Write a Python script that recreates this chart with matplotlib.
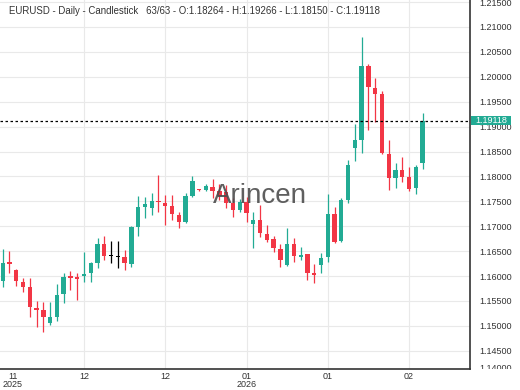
import numpy as np
import matplotlib.pyplot as plt
from matplotlib.patches import Rectangle
from matplotlib.transforms import Bbox, TransformedBbox, blended_transform_factory

plt.rcParams['font.family'] = ['Liberation Sans', 'DejaVu Sans']

# daily EURUSD candles (63 bars)
opens = [1.15900, 1.16287, 1.16120, 1.15886, 1.15779, 1.15364, 1.15317, 1.15062, 1.15183, 1.15639,
         1.16000, 1.15980, 1.16006, 1.16054, 1.16267, 1.16637, 1.16420, 1.16400, 1.16388, 1.16241,
         1.16990, 1.17392, 1.17360, 1.17510, 1.17472, 1.17406, 1.17225, 1.17078, 1.17613, 1.17741,
         1.17721, 1.17793, 1.17710, 1.17693, 1.17460, 1.17325, 1.17480, 1.17038, 1.17125, 1.16843,
         1.16737, 1.16542, 1.16221, 1.16643, 1.16388, 1.16436, 1.16066, 1.16221, 1.16376, 1.17239,
         1.16709, 1.17526, 1.18564, 1.18731, 1.20217, 1.19781, 1.19655, 1.18450, 1.17962, 1.18129,
         1.17982, 1.17761, 1.18264]
highs = [1.16542, 1.16508, 1.16150, 1.15960, 1.15960, 1.15498, 1.15484, 1.15484, 1.15840, 1.16060,
         1.16106, 1.16066, 1.16488, 1.16287, 1.16757, 1.16803, 1.16703, 1.16703, 1.16522, 1.17000,
         1.17613, 1.17580, 1.17661, 1.18028, 1.17627, 1.17627, 1.17291, 1.17661, 1.18008, 1.17750,
         1.17841, 1.17948, 1.17850, 1.17827, 1.17560, 1.17540, 1.17593, 1.17280, 1.17426, 1.17024,
         1.16803, 1.16643, 1.16958, 1.16757, 1.16588, 1.16450, 1.16241, 1.16468, 1.17647, 1.17392,
         1.17560, 1.18329, 1.19046, 1.20805, 1.20251, 1.19970, 1.19721, 1.18731, 1.18275, 1.18384,
         1.18195, 1.18229, 1.19266]
lows = [1.15779, 1.16054, 1.15799, 1.15685, 1.15177, 1.14982, 1.14882, 1.15016, 1.15096, 1.15458,
        1.15719, 1.15518, 1.15886, 1.15886, 1.16155, 1.16321, 1.16255, 1.16161, 1.16120, 1.16187,
        1.16809, 1.17159, 1.17225, 1.17291, 1.17024, 1.17125, 1.16970, 1.17060, 1.17593, 1.17710,
        1.17707, 1.17560, 1.17520, 1.17366, 1.17191, 1.17291, 1.17090, 1.16556, 1.16789, 1.16689,
        1.16488, 1.16187, 1.16201, 1.16287, 1.16321, 1.15920, 1.15853, 1.16054, 1.16287, 1.16657,
        1.16689, 1.17466, 1.18315, 1.18476, 1.18932, 1.19098, 1.18450, 1.17727, 1.17761, 1.17894,
        1.17713, 1.17647, 1.18150]
closes = [1.16267, 1.16235, 1.15900, 1.15785, 1.15378, 1.15317, 1.15183, 1.15177, 1.15619, 1.15986,
          1.15960, 1.15950, 1.16040, 1.16267, 1.16637, 1.16408, 1.16420, 1.16400, 1.16255, 1.16990,
          1.17392, 1.17440, 1.17506, 1.17480, 1.17412, 1.17239, 1.17090, 1.17606, 1.17914, 1.17721,
          1.17801, 1.17707, 1.17600, 1.17460, 1.17325, 1.17492, 1.17271, 1.17125, 1.16857, 1.16723,
          1.16568, 1.16321, 1.16643, 1.16402, 1.16422, 1.16066, 1.16026, 1.16368, 1.17245, 1.16689,
          1.17526, 1.18229, 1.18731, 1.20217, 1.19789, 1.19655, 1.18476, 1.17962, 1.18129, 1.17994,
          1.17741, 1.18195, 1.19118]

tick_pos = [0, 12, 24, 36, 48, 60]
tick_labels = ['11\n2025', '12', '12', '01\n2026', '01', '02']
last_price = 1.19118
title = ('EURUSD - Daily - Candlestick   63/63 - O:1.18264 - H:1.19266 - '
         'L:1.18150 - C:1.19118')

up = '#22ab94'
down = '#f23645'
text_col = '#333333'

fig = plt.figure(figsize=(5.2, 3.9), dpi=100)
ax = fig.add_axes([0, 21 / 390, 470 / 520, 369 / 390])

o = np.array(opens)
c = np.array(closes)
x = np.arange(len(o))
colors = np.where(c > o, up, np.where(c < o, down, 'black'))
body_h = np.maximum(np.abs(c - o), 0.00018)
body_b = np.where(c == o, o - 0.00009, np.minimum(o, c))

ax.vlines(x, lows, highs, colors=colors, lw=0.9, zorder=2)
ax.bar(x, body_h, bottom=body_b, width=0.64, color=colors, zorder=3)

ax.axhline(last_price, color='black', lw=0.9, linestyle=(0, (2, 2)), zorder=4)

ax.set_xlim(-0.4, 69.0)
ax.set_ylim(1.14133, 1.21542)

yt = np.arange(1.145, 1.2151, 0.005)
ax.yaxis.tick_right()
ax.set_yticks(yt)
ax.set_yticklabels([f'{v:.5f}' for v in yt])
ax.set_xticks(tick_pos)
ax.set_xticklabels(tick_labels, linespacing=0.95)
first = ax.get_xticklabels()[0]
first.set_horizontalalignment('left')
first.set_multialignment('center')
ax.tick_params(axis='y', length=0, pad=6.5, labelsize=6.5, labelcolor=text_col)
ax.tick_params(axis='x', length=0, pad=2, labelsize=6.5, labelcolor=text_col)

ax.grid(True, color='#e9e9e9', lw=0.8)
ax.xaxis.get_gridlines()[0].set_visible(False)
ax.set_axisbelow(True)

for s in ['top', 'left']:
    ax.spines[s].set_visible(False)
for s in ['right', 'bottom']:
    ax.spines[s].set_color('#333333')
    ax.spines[s].set_linewidth(1.2)

# clipped bottom label
t = ax.text(1.0 + 9 / 470, 1.14153, '1.14000', transform=ax.get_yaxis_transform(),
            fontsize=6.5, color=text_col, va='center', ha='left')
t.set_clip_box(TransformedBbox(Bbox.from_extents(0.9, 21 / 390, 1.0, 1.0), fig.transFigure))
t.set_clip_on(True)

# last price tag
trans = blended_transform_factory(ax.transAxes, ax.transData)
ax.add_patch(Rectangle((1.002, last_price - 0.00093), 40 / 470, 0.00187, transform=trans,
                       facecolor=up, edgecolor='none', clip_on=False, zorder=6))
ax.text(1.002 + 20 / 470, last_price, '1.19118', transform=trans, fontsize=6.5,
        color='white', ha='center', va='center', clip_on=False, zorder=7)

ax.text(38.0, 1.17466, 'Arincen', fontsize=20, color='#4d4d4d', alpha=0.9,
        ha='center', va='baseline', zorder=5)

fig.text(9 / 520, 1 - 11 / 390, title, fontsize=6.9, color=text_col, va='center')

fig.savefig('out.png', dpi=100)
